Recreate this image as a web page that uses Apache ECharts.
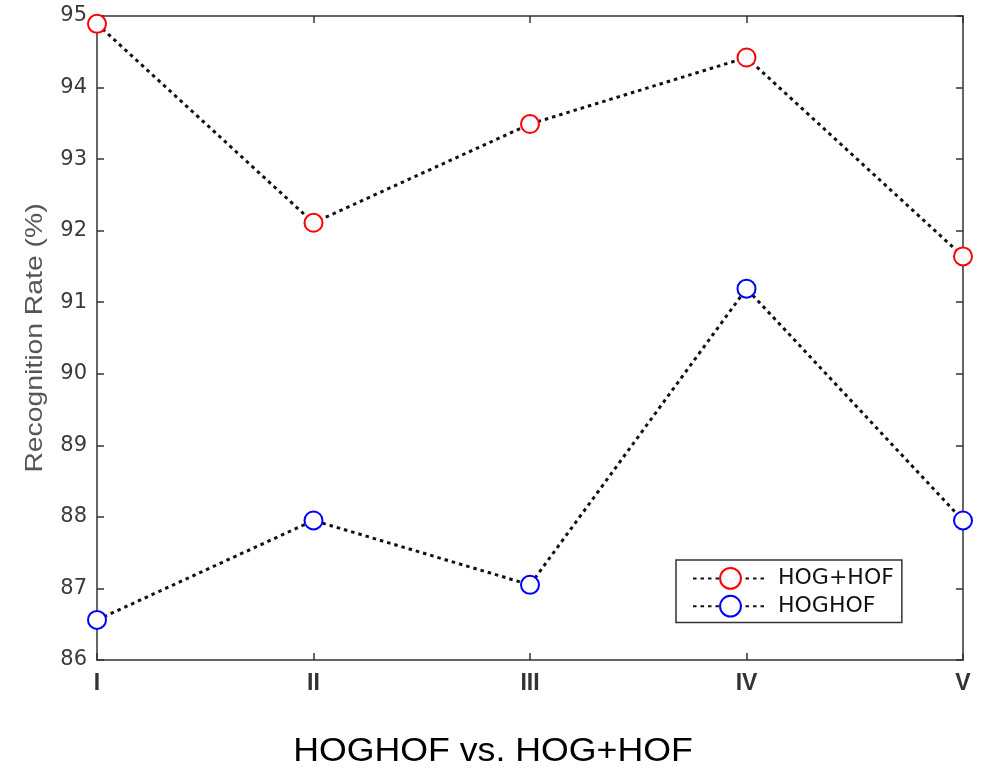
<!DOCTYPE html>
<html><head><meta charset="utf-8">
<script src="https://cdn.jsdelivr.net/npm/echarts@6/dist/echarts.min.js"></script>
<style>html,body{margin:0;padding:0;background:#fff}#c{width:983px;height:769px}</style>
</head><body><div id="c"></div>
<script>
const categories = ['I', 'II', 'III', 'IV', 'V'];
const hogPlusHof = [94.89, 92.11, 93.49, 94.42, 91.64];
const hoghof = [86.56, 87.95, 87.05, 91.19, 87.95];
const yTicks = [86, 87, 88, 89, 90, 91, 92, 93, 94, 95];
const seriesNames = ['HOG+HOF', 'HOGHOF'];
const titleText = 'HOGHOF vs. HOG+HOF';
const yName = 'Recognition Rate (%)';

const font = 'Liberation Sans, Arial, sans-serif';
const wide = 'DejaVu Sans, sans-serif';
const axisColor = '#333';
const chart = echarts.init(document.getElementById('c'));
const lineStyle = {color: '#111', width: 3, type: [3.5, 4]};
const tick = {show: true, inside: true, length: 7, lineStyle: {color: axisColor, width: 1.5}};
const line = {show: true, lineStyle: {color: axisColor, width: 1.5}};
chart.setOption({
  animation: false,
  graphic: [{
    type: 'text', x: 493, y: 752, scaleX: 1.05,
    style: {text: titleText, font: '34px ' + font, fill: '#000', textAlign: 'center', textVerticalAlign: 'middle'}
  }, {
    type: 'text', x: 35, y: 338, rotation: Math.PI / 2, scaleX: 1.18,
    style: {text: yName, font: '24px ' + font, fill: '#555', textAlign: 'center', textVerticalAlign: 'middle'}
  }],
  grid: {left: 97, right: 20, top: 16, bottom: 109, show: false},
  legend: {
    data: seriesNames, orient: 'vertical', left: 676, top: 560,
    itemWidth: 75, itemHeight: 26, itemGap: 5,
    padding: [7, 8, 5, 16], borderColor: axisColor, borderWidth: 1.5, borderRadius: 0,
    backgroundColor: '#fff',
    textStyle: {fontFamily: wide, fontSize: 22, color: '#111', padding: [0, 0, 0, 5]}
  },
  xAxis: [{
    type: 'category', data: categories, boundaryGap: false, position: 'bottom',
    axisLine: line, axisTick: tick,
    axisLabel: {fontFamily: font, fontSize: 23, fontWeight: 'bold', color: '#333', margin: 12}
  }, {
    type: 'category', data: categories, boundaryGap: false, position: 'top',
    axisLine: line, axisTick: tick, axisLabel: {show: false}
  }],
  yAxis: [{
    type: 'value', min: yTicks[0], max: yTicks[yTicks.length - 1], interval: 1,
    splitLine: {show: false}, axisLine: line, axisTick: tick,
    axisLabel: {fontFamily: wide, fontSize: 21, color: '#3a3a3a', margin: 10}
  }, {
    type: 'value', min: yTicks[0], max: yTicks[yTicks.length - 1], interval: 1, position: 'right',
    splitLine: {show: false}, axisLine: line, axisTick: tick, axisLabel: {show: false}
  }],
  series: [{
    name: seriesNames[0], type: 'line', data: hogPlusHof,
    symbol: 'emptyCircle', symbolSize: 18,
    itemStyle: {color: '#ff0000', borderWidth: 3.2},
    lineStyle: lineStyle, z: 3
  }, {
    name: seriesNames[1], type: 'line', data: hoghof,
    symbol: 'emptyCircle', symbolSize: 18,
    itemStyle: {color: '#0000ff', borderWidth: 3.2},
    lineStyle: lineStyle, z: 3
  }]
});
</script></body></html>
